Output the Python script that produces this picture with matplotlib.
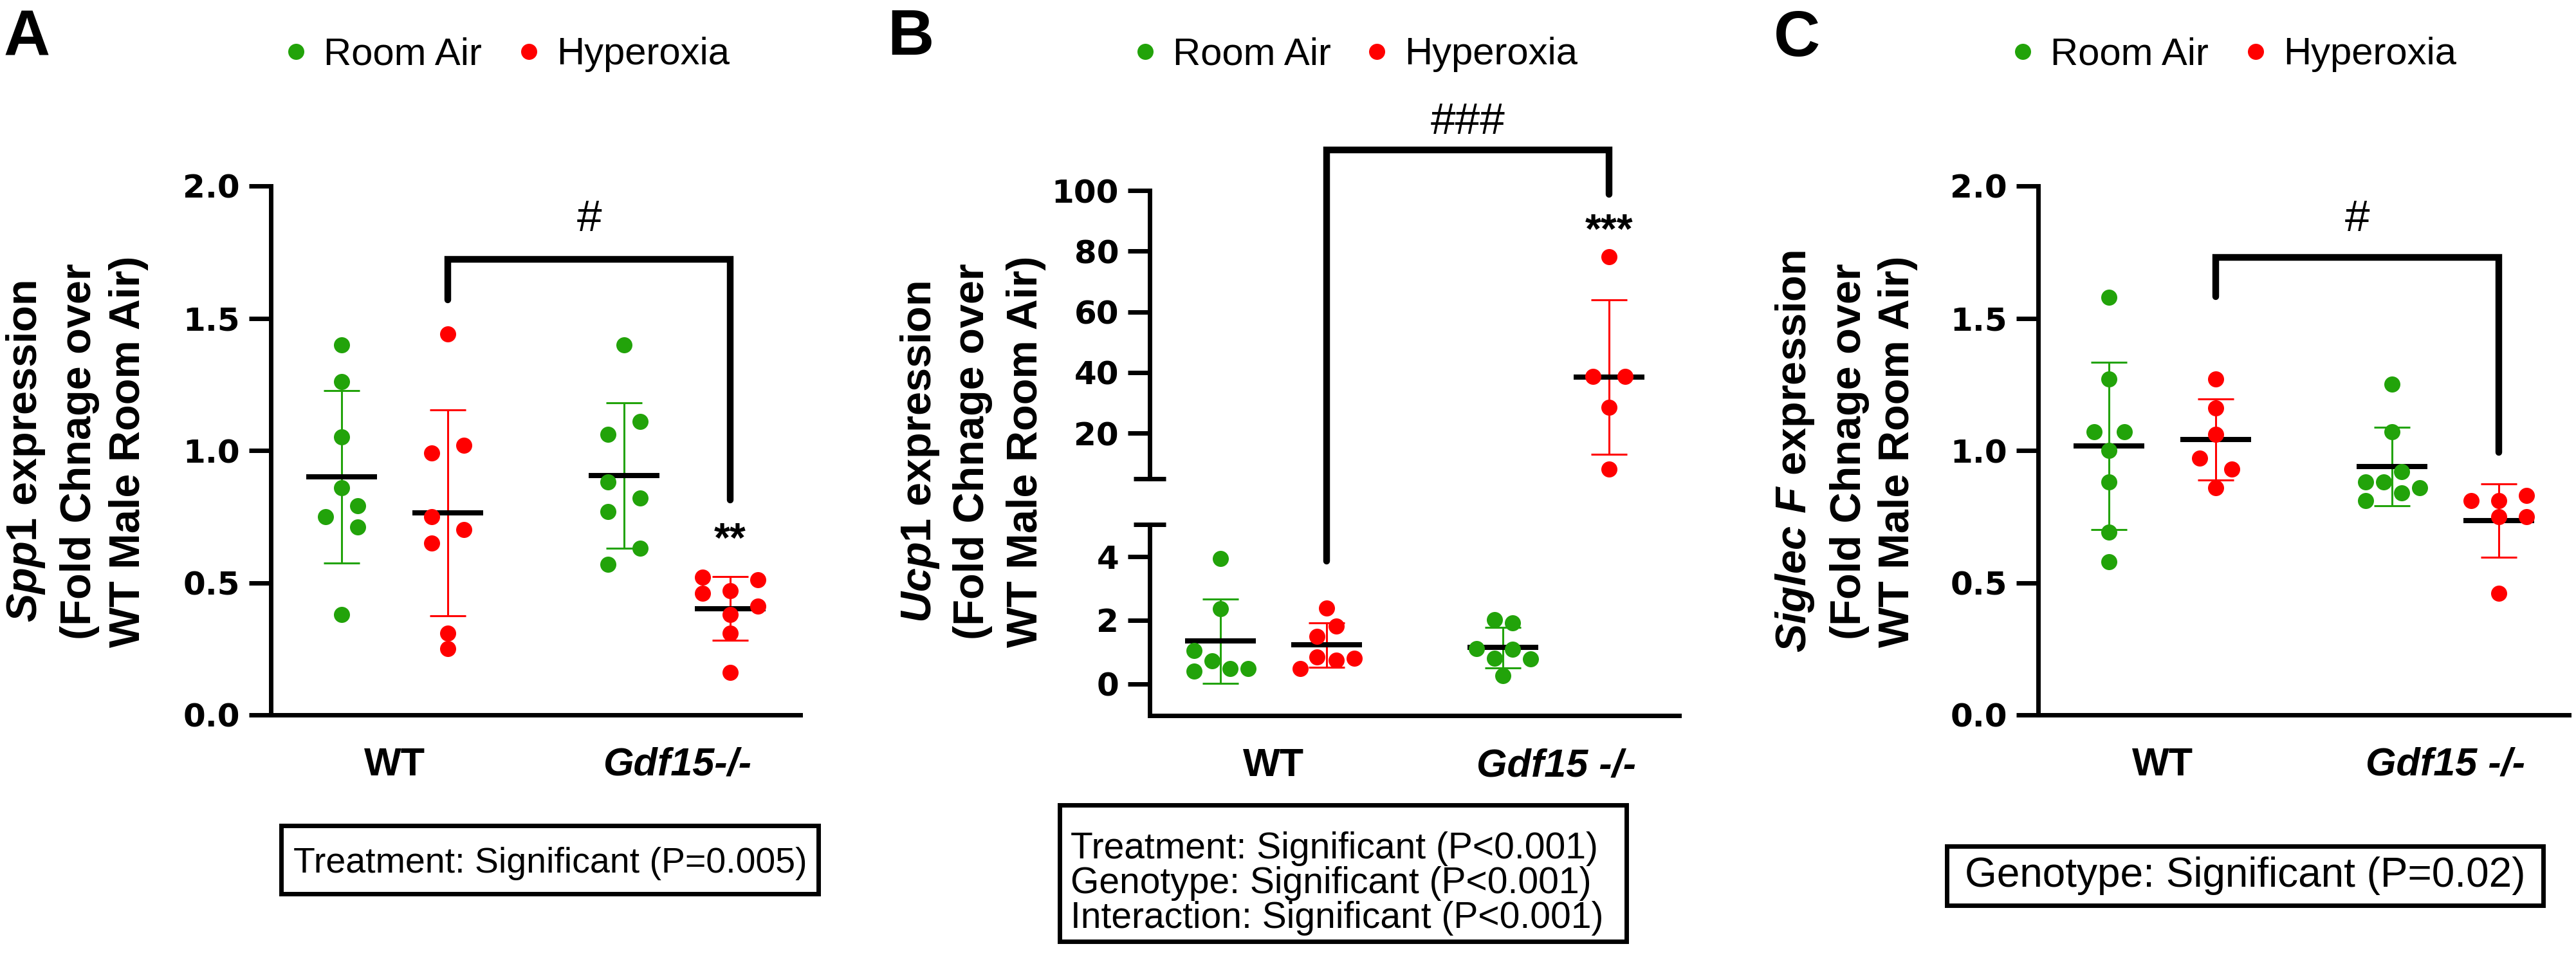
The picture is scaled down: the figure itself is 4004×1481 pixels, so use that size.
import numpy as np
import matplotlib
matplotlib.use("Agg")
import matplotlib.pyplot as plt
from matplotlib.lines import Line2D
from matplotlib.patches import Rectangle

plt.rcParams['font.family'] = ['Liberation Sans', 'DejaVu Sans']
plt.rcParams['mathtext.fontset'] = 'custom'
plt.rcParams['mathtext.it'] = 'Liberation Sans:italic:bold'
plt.rcParams['mathtext.rm'] = 'Liberation Sans:bold'

GREEN = '#22a30a'
RED = '#ff0000'

treatments = ['Room Air', 'Hyperoxia']

# ---- panel A : Spp1 ----
a_groups = ['WT', 'Gdf15-/-']
a_wt_ra = [1.40, 1.26, 1.05, 0.86, 0.79, 0.75, 0.71, 0.38]
a_wt_hy = [1.44, 1.02, 0.99, 0.75, 0.70, 0.65, 0.31, 0.25]
a_ko_ra = [1.40, 1.11, 1.06, 0.88, 0.82, 0.77, 0.63, 0.57]
a_ko_hy = [0.52, 0.51, 0.46, 0.47, 0.41, 0.38, 0.31, 0.16]
a_stats = ['Treatment: Significant (P=0.005)']

# ---- panel B : Ucp1 ----
b_groups = ['WT', 'Gdf15 -/-']
b_wt_ra = [3.92, 2.35, 1.05, 0.72, 0.39, 0.47, 0.47]
b_wt_hy = [2.38, 1.80, 1.48, 0.84, 0.74, 0.79, 0.47]
b_ko_ra = [2.01, 1.91, 1.11, 1.09, 0.79, 0.77, 0.26]
b_ko_hy = [78.1, 38.7, 38.7, 28.5, 8.1]
b_stats = ['Treatment: Significant (P<0.001)',
           'Genotype: Significant (P<0.001)',
           'Interaction: Significant (P<0.001)']

# ---- panel C : Siglec F ----
c_groups = ['WT', 'Gdf15 -/-']
c_wt_ra = [1.58, 1.27, 1.07, 1.07, 1.00, 0.88, 0.69, 0.58]
c_wt_hy = [1.27, 1.16, 1.06, 0.97, 0.93, 0.86]
c_ko_ra = [1.25, 1.07, 0.92, 0.88, 0.88, 0.86, 0.84, 0.81]
c_ko_hy = [0.83, 0.81, 0.81, 0.75, 0.75, 0.46]
c_stats = ['Genotype: Significant (P=0.02)']

# sideways scatter of the dots (prism style column scatter)
a_jit = [[0, 0, 0, 0, .15, -.15, .15, 0],
         [0, .15, -.15, -.15, .15, -.15, 0, 0],
         [0, .15, -.15, -.15, .15, -.15, .15, -.15],
         [-.26, .26, -.26, 0, .26, 0, 0, 0]]
b_jit = [[0, 0, -.25, -.08, -.25, .09, .26],
         [0, .09, -.09, -.09, .09, .26, -.25],
         [-.08, .09, -.25, .09, -.08, .26, 0],
         [0, -.15, .15, 0, 0]]
c_jit = [[0, 0, -.14, .14, 0, 0, 0, 0],
         [0, 0, 0, -.15, .15, 0],
         [0, 0, .09, -.25, -.08, .26, .09, -.25],
         [.26, 0, -.26, .26, 0, 0]]

pos = [0, 1, 2.66, 3.66]
XLIM = (-0.667, 4.32)

W, H = 4004, 1481
fig = plt.figure(figsize=(W / 100, H / 100), dpi=100)

LEG_SIZE = 43
YLAB_SIZE = 48
GROUP_SIZE = 44


def fx(p):
    return p / W


def fy(p):
    return 1 - p / H


def add_ax(left, top, right, bottom):
    ax = fig.add_axes([fx(left), fy(bottom), (right - left) / W, (bottom - top) / H])
    ax.patch.set_alpha(0)
    return ax


def style(ax, ylim, ticks, labels, groups=None):
    ax.set_xlim(*XLIM)
    ax.set_ylim(*ylim)
    for s in ['top', 'right']:
        ax.spines[s].set_visible(False)
    ax.spines['left'].set_linewidth(5)
    ax.spines['bottom'].set_linewidth(5)
    ax.set_yticks(ticks)
    ax.set_yticklabels(labels, fontfamily='DejaVu Sans', fontweight='bold', fontsize=36)
    ax.tick_params(axis='y', length=24.5, width=5, pad=10)
    if groups is None:
        ax.set_xticks([])
        ax.spines['bottom'].set_visible(False)
    else:
        ax.set_xticks([(pos[0] + pos[1]) / 2, (pos[2] + pos[3]) / 2])
        ax.set_xticklabels(groups, fontsize=GROUP_SIZE, fontweight='bold')
        ax.tick_params(axis='x', length=0, pad=36)
        ax.get_xticklabels()[1].set_style('italic')


def draw_group(ax, x, vals, jit, color):
    vals = np.asarray(vals)
    m = vals.mean()
    sd = vals.std(ddof=1)
    ax.errorbar(x, m, yerr=sd, fmt='none', ecolor=color, elinewidth=2.2,
                capsize=20.5, capthick=2.2, zorder=1)
    ax.plot([x - 0.333, x + 0.333], [m, m], color='k', lw=5.8,
            solid_capstyle='butt', zorder=2)
    ax.plot(x + np.asarray(jit), vals, 'o', color=color, ms=18, mec='none',
            zorder=3, clip_on=False)


def bracket(ax, x1, x2, y1, ytop, y2):
    ax.plot([x1, x1, x2, x2], [y1, ytop, ytop, y2], color='k', lw=7.5,
            solid_capstyle='round', solid_joinstyle='miter', clip_on=False)


def legend(xdots, ydot=85):
    em = LEG_SIZE * fig.dpi / 72
    hw = 0.5 * em
    for xd, lab, c in zip(xdots, treatments, (GREEN, RED)):
        h = Line2D([], [], ls='', marker='o', ms=18, color=c, mec='none')
        fig.legend([h], [lab], loc='center left', bbox_to_anchor=(fx(xd - hw / 2), fy(ydot)),
                   frameon=False, handlelength=0.5, handletextpad=(43 - hw / 2) / em,
                   borderpad=0, borderaxespad=0, fontsize=LEG_SIZE)


def ylabel(xs, lines, yc=702):
    for x, t in zip(xs, lines):
        fig.text(fx(x), fy(yc), t, rotation=90, ha='center', va='center',
                 fontsize=YLAB_SIZE, fontweight='bold')


def statbox(left, top, right, bottom, lines, xt, baselines, size, ha='left'):
    fig.add_artist(Rectangle((fx(left), fy(bottom)), (right - left) / W, (bottom - top) / H,
                             transform=fig.transFigure, fill=False, lw=5, ec='k'))
    for t, b in zip(lines, baselines):
        fig.text(fx(xt), fy(b), t, ha=ha, va='baseline', fontsize=size)


# ================= panel A =================
axA = add_ax(421, 289, 1244, 1111)
style(axA, (0, 2), [0, 0.5, 1, 1.5, 2], ['0.0', '0.5', '1.0', '1.5', '2.0'], a_groups)
for i, (v, c) in enumerate(zip([a_wt_ra, a_wt_hy, a_ko_ra, a_ko_hy], [GREEN, RED, GREEN, RED])):
    draw_group(axA, pos[i], v, a_jit[i], c)
bracket(axA, pos[1], pos[3], 1.569, 1.722, 0.812)
axA.text((pos[1] + pos[3]) / 2, 1.83, '#', ha='center', va='baseline', fontsize=50)
axA.text(pos[3], 0.617, '**', ha='center', va='baseline', fontsize=46, fontweight='bold')

fig.text(fx(42), fy(87), 'A', ha='center', va='baseline', fontsize=72, fontweight='bold')
legend([460, 822])
ylabel([40, 124, 200], [r'$\mathit{Spp1}$ expression', '(Fold Chnage over', 'WT Male Room Air)'])
statbox(437, 1283, 1272, 1389, a_stats, 855, [1356], 40, ha='center')

# ================= panel B (broken axis) =================
axBu = add_ax(1787, 296, 2610, 744)
axBl = add_ax(1787, 815, 2610, 1112)
style(axBu, (5, 100), [20, 40, 60, 80, 100], ['20', '40', '60', '80', '100'])
style(axBl, (-1, 5), [0, 2, 4], ['0', '2', '4'], b_groups)
for i, (v, c) in enumerate(zip([b_wt_ra, b_wt_hy, b_ko_ra], [GREEN, RED, GREEN])):
    draw_group(axBl, pos[i], v, b_jit[i], c)
draw_group(axBu, pos[3], b_ko_hy, b_jit[3], RED)
# break caps
axBu.plot([XLIM[0] - 0.15, XLIM[0] + 0.15], [5, 5], color='k', lw=5,
          solid_capstyle='butt', clip_on=False)
axBl.plot([XLIM[0] - 0.15, XLIM[0] + 0.15], [5, 5], color='k', lw=5,
          solid_capstyle='butt', clip_on=False)


def to_fig(ax, x, y):
    return fig.transFigure.inverted().transform(ax.transData.transform((x, y)))


pts = [to_fig(axBl, pos[1], 3.85), to_fig(axBu, pos[1], 113.4),
       to_fig(axBu, pos[3], 113.4), to_fig(axBu, pos[3], 98.8)]
fig.add_artist(Line2D([p[0] for p in pts], [p[1] for p in pts], transform=fig.transFigure,
                      color='k', lw=7.5, solid_capstyle='round', solid_joinstyle='miter'))
axBu.text((pos[1] + pos[3]) / 2, 118.7, '###', ha='center', va='baseline', fontsize=50)
axBu.text(pos[3], 82.7, '***', ha='center', va='baseline', fontsize=46, fontweight='bold')

fig.text(fx(1415), fy(85), 'B', ha='center', va='baseline', fontsize=72, fontweight='bold')
legend([1780, 2140])
ylabel([1430, 1512, 1595], [r'$\mathit{Ucp1}$ expression', '(Fold Chnage over', 'WT Male Room Air)'])
statbox(1647, 1251, 2528, 1463, b_stats, 1664, [1334, 1388, 1442], 41)

# ================= panel C =================
axC = add_ax(3168, 289, 3993, 1111)
style(axC, (0, 2), [0, 0.5, 1, 1.5, 2], ['0.0', '0.5', '1.0', '1.5', '2.0'], c_groups)
for i, (v, c) in enumerate(zip([c_wt_ra, c_wt_hy, c_ko_ra, c_ko_hy], [GREEN, RED, GREEN, RED])):
    draw_group(axC, pos[i], v, c_jit[i], c)
bracket(axC, pos[1], pos[3], 1.582, 1.73, 0.992)
axC.text((pos[1] + pos[3]) / 2, 1.83, '#', ha='center', va='baseline', fontsize=50)

fig.text(fx(2793), fy(87), 'C', ha='center', va='baseline', fontsize=72, fontweight='bold')
legend([3144, 3506])
ylabel([2790, 2875, 2950], [r'$\mathit{Siglec\ F}$ expression', '(Fold Chnage over', 'WT Male Room Air)'])
statbox(3026, 1315, 3953, 1407, c_stats, 3490, [1378], 46, ha='center')

fig.savefig('out.png', dpi=100)
